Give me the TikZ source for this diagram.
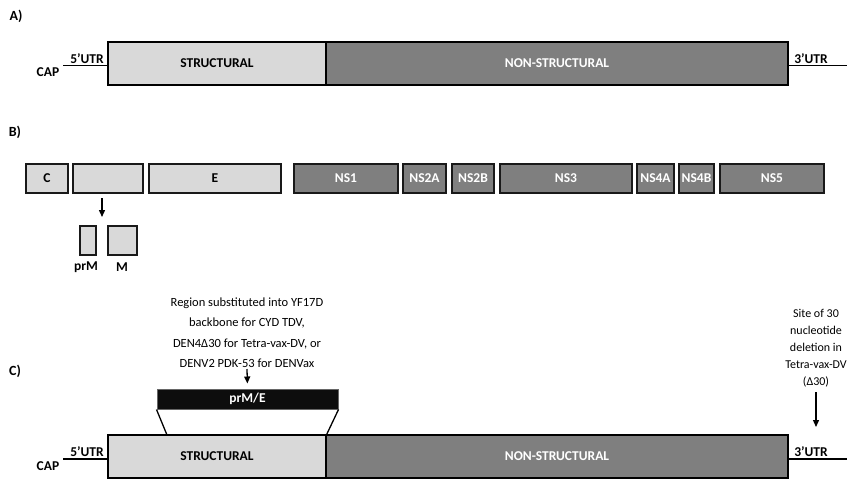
\documentclass[tikz,border=0pt]{standalone}
\usepackage{fontspec}
\setmainfont{Carlito}
\usetikzlibrary{arrows.meta,positioning}
\definecolor{lightgrey}{HTML}{D9D9D9}
\definecolor{darkgrey}{HTML}{7F7F7F}
\definecolor{barblack}{HTML}{0D0D0D}
\tikzset{
  lightbox/.style={draw, line width=1.5pt, fill=lightgrey, inner sep=0pt, font=\bfseries\fontsize{13.5}{15}\selectfont},
  darkbox/.style={lightbox, fill=darkgrey, text=white},
  genebox/.style={line width=2.4pt, draw=black!90},
  arr/.style={-{Triangle[length=7pt,width=6pt]}, line width=1.3pt},
  utr/.style={inner sep=0pt, font=\bfseries\fontsize{13.5}{15}\selectfont},
  panel/.style={inner sep=0pt, font=\bfseries\fontsize{14}{16}\selectfont},
}
\begin{document}
\begin{tikzpicture}[x=1pt, y=-1pt]
    \useasboundingbox (0,0) rectangle (859,493);
    % panel A: genome
    \node[panel] (lblA) at (16,16) {A)};
    \node[lightbox, minimum width=218, minimum height=43] (strA) at (217,63.5) {STRUCTURAL};
    \node[darkbox, minimum width=462, minimum height=43] (nonA) at (557,63.5) {NON-STRUCTURAL};
    \coordinate (capA) at (63,65.5);
    \coordinate (endA) at (847,65.5);
    \draw[line width=1.3pt] (capA) -- (strA.west |- capA);
    \draw[line width=1.3pt] (nonA.east |- endA) -- (endA);
    \node[utr] (capa) at (48,72) {CAP};
    \node[utr] (fiveA) at (87,59) {5’UTR};
    \node[utr] (threeA) at (811,59) {3’UTR};
    % panel B: proteins
    \node[panel] (lblB) at (15,132) {B)};
    \foreach \name/\xa/\xb/\lab in {c/26/68/C, prm/73/143/{}, e/149/281/E}{
        \node[lightbox, genebox, minimum width={\xb-\xa}, minimum height=29] (\name) at ({(\xa+\xb)/2},178.5) {\lab};
    }
    \foreach \name/\xa/\xb/\lab in {ns1/294/398/NS1, ns2a/403/446/NS2A, ns2b/452/494/NS2B, ns3/500/632/NS3, ns4a/637/674/NS4A, ns4b/679/714/NS4B, ns5/720/824/NS5}{
        \node[darkbox, genebox, minimum width={\xb-\xa}, minimum height=29] (\name) at ({(\xa+\xb)/2},178.5) {\lab};
    }
    \coordinate (cleave) at (102,198);
    \coordinate (split) at (102,217);
    \draw[arr] (cleave) -- (split);
    \node[lightbox, genebox, minimum width=16, minimum height=29] (prmsmall) at (88,240.5) {};
    \node[lightbox, genebox, minimum width=29, minimum height=29] (msmall) at (122.5,240.5) {};
    \node[utr] (prmlbl) at (86,267) {prM};
    \node[utr] (mlbl) at (122,267) {M};
    % panel C: chimeric and deletion vaccines
    \node[panel] (lblC) at (15,371) {C)};
    \node[align=center, inner sep=0pt, font=\fontsize{12.5}{20.5}\selectfont] (region) at (247,332.5)
        {Region substituted into YF17D\\backbone for CYD TDV,\\DEN4Δ30 for Tetra-vax-DV, or\\DENV2 PDK-53 for DENVax};
    \node[align=center, inner sep=0pt, font=\fontsize{12}{17}\selectfont] (site) at (816,348.5)
        {Site of 30\\nucleotide\\deletion in\\Tetra-vax-DV\\(Δ30)};
    \node[lightbox, minimum width=218, minimum height=43] (strC) at (217,456.5) {STRUCTURAL};
    \node[darkbox, minimum width=462, minimum height=43] (nonC) at (557,456.5) {NON-STRUCTURAL};
    \node[draw=black!60, line width=1pt, fill=barblack, text=white, inner sep=0pt, font=\bfseries\fontsize{13.5}{15}\selectfont,
        minimum width=181, minimum height=20] (bar) at (247.5,399) {prM/E};
    \coordinate (ins) at (167,435);
    \draw[line width=1.3pt] (bar.south west) -- (ins);
    \draw[line width=1.3pt] (bar.south east) -- (strC.north east);
    \coordinate (regtop) at (247,369);
    \draw[arr, shorten >=5pt] (regtop) -- (bar.north);
    \coordinate (sitetop) at (816,392);
    \coordinate (delsite) at (816,427);
    \draw[arr] (sitetop) -- (delsite);
    \coordinate (capC) at (63,459);
    \coordinate (endC) at (847,459);
    \draw[line width=1.3pt] (capC) -- (strC.west |- capC);
    \draw[line width=1.3pt] (nonC.east |- endC) -- (endC);
    \node[utr] (capc) at (48,466) {CAP};
    \node[utr] (fiveC) at (87,452) {5’UTR};
    \node[utr] (threeC) at (811,452) {3’UTR};
\end{tikzpicture}
\end{document}
